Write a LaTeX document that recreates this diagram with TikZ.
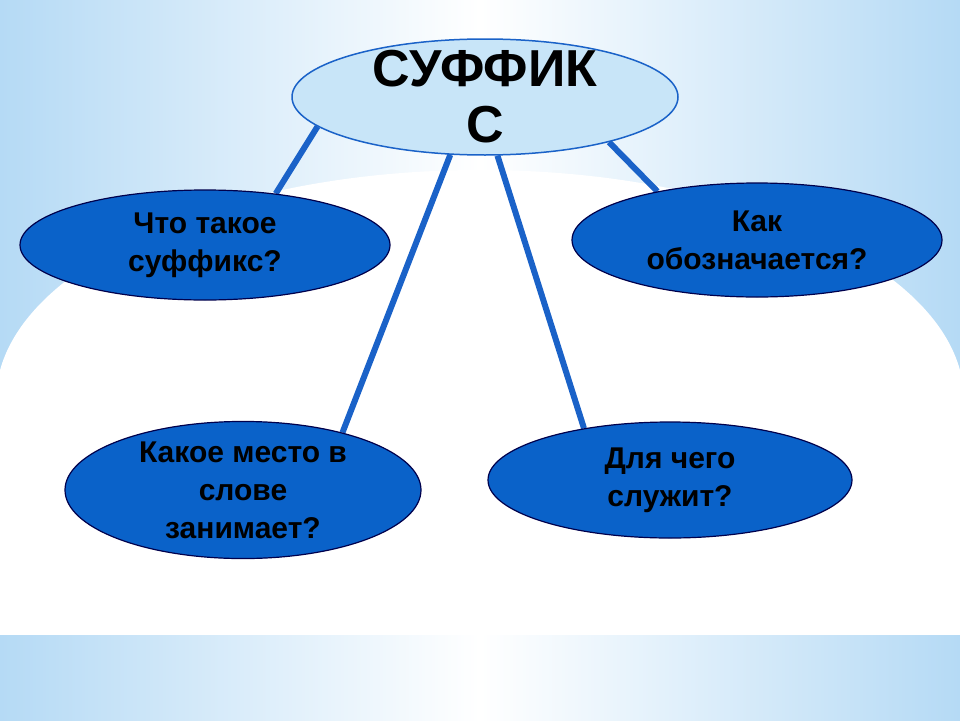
\documentclass[tikz,border=0pt]{standalone}
\usepackage{fontspec}
\setmainfont{Liberation Sans}
\usetikzlibrary{shapes.geometric}
\definecolor{bgblue}{HTML}{B5DAF5}
\definecolor{topfill}{HTML}{C8E5F8}
\definecolor{nodeblue}{HTML}{0A62C9}
\definecolor{lineblue}{HTML}{1A62C8}
\pgfdeclarelayer{bglayer}
\pgfdeclarelayer{linelayer}
\pgfsetlayers{bglayer,linelayer,main}
\begin{document}
\begin{tikzpicture}[x=1pt,y=-1pt,
  q/.style={ellipse,draw=black!70!blue,line width=1.2pt,fill=nodeblue,inner sep=0pt,align=center,font=\fontsize{30}{38}\selectfont\bfseries,text=black},
  conn/.style={draw=lineblue,line width=6pt}]
\useasboundingbox (0,0) rectangle (960,720);
\node[ellipse,draw=lineblue,line width=1.5pt,fill=topfill,minimum width=386,minimum height=116,inner xsep=0pt,inner ysep=-12pt,align=center,font=\fontsize{52}{56}\selectfont\bfseries] (top) at (485,97) {СУФФИК\\С};
\node[q,minimum width=370,minimum height=110] (a) at (205,245) {Что такое\\суффикс?};
\node[q,minimum width=370,minimum height=114] (b) at (757,240) {Как\\обозначается?};
\node[q,minimum width=356,minimum height=116] (c) at (243,490) {Какое место в\\слове\\занимает?};
\node[q,minimum width=364,minimum height=116] (d) at (670,480) {Для чего\\служит?};
\begin{pgfonlayer}{bglayer}
\shade[left color=bgblue,right color=bgblue,middle color=white] (0,0) rectangle (960,720);
\fill[white] (480,400) ellipse [x radius=484,y radius=230];
\fill[white] (0,395) rectangle (960,635);
\end{pgfonlayer}
\begin{pgfonlayer}{linelayer}
\draw[conn] (top.190) -- (a.36);
\draw[conn] (top.-20) -- (b.154);
\draw[conn] (top.239) -- (c.30);
\draw[conn] (top.-78) -- (d.149);
\end{pgfonlayer}
\end{tikzpicture}
\end{document}
